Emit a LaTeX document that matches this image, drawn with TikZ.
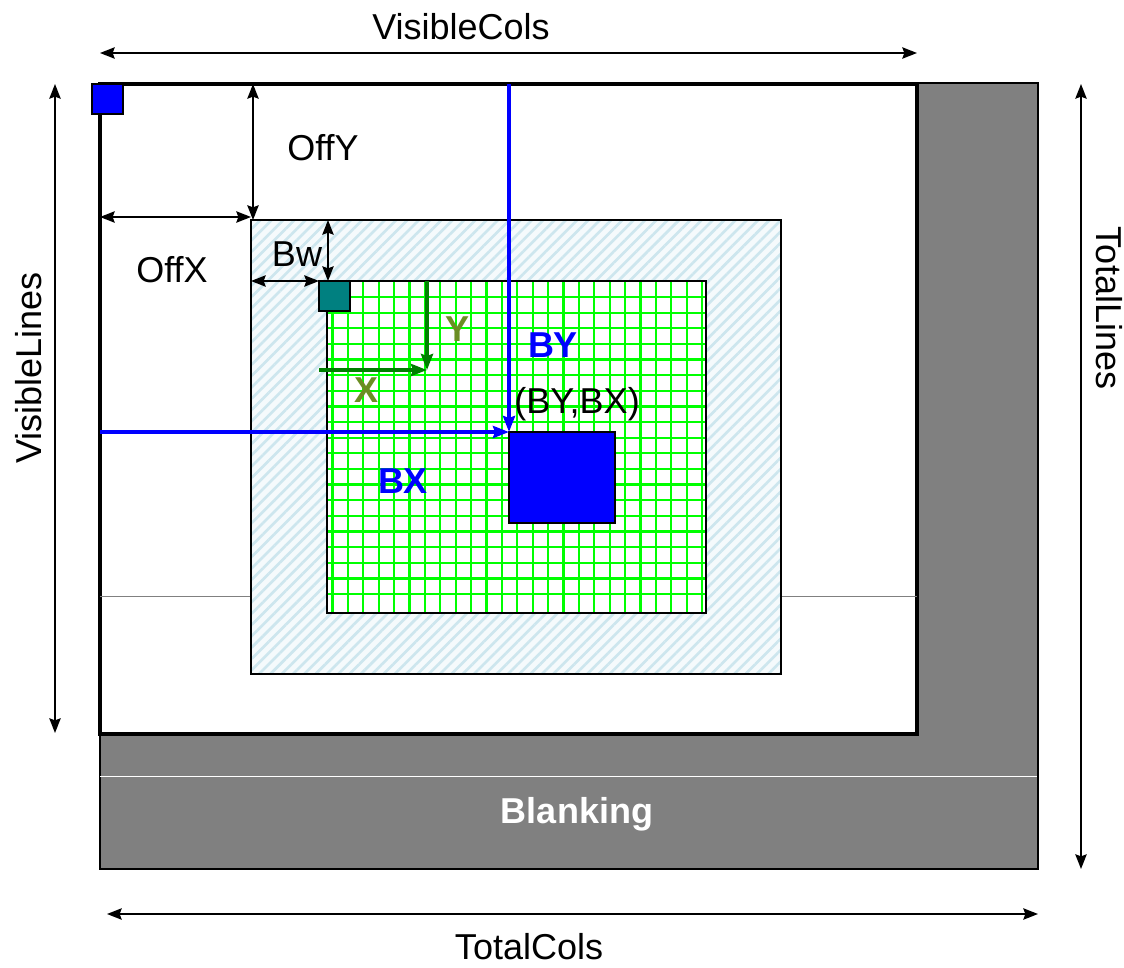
\documentclass[tikz,border=0pt]{standalone}
\usepackage{fontspec}
\setmainfont{Liberation Sans}
\usetikzlibrary{arrows.meta,patterns.meta}

\definecolor{blankgray}{RGB}{128,128,128}
\definecolor{gridgreen}{RGB}{0,255,0}
\definecolor{axisgreen}{RGB}{0,128,0}
\definecolor{axisolive}{RGB}{107,142,35}
\definecolor{hatchblue}{RGB}{205,230,238}
\definecolor{hatchbg}{RGB}{245,250,252}

\tikzset{every picture/.style={line width=0.75pt}}
\tikzset{
  dimarrow/.style={{Stealth[length=11pt,width=8.5pt,inset=1.5pt]}-{Stealth[length=11pt,width=8.5pt,inset=1.5pt]}, line width=1.4pt},
  bluearrow/.style={-{Stealth[length=12pt,width=9pt,inset=1.5pt]}, line width=2.6pt, color=blue},
  greenarrow/.style={-{Stealth[length=12pt,width=9pt,inset=1.5pt]}, line width=2.6pt, color=axisgreen},
  lbl/.style={inner sep=0pt, font=\fontsize{27}{30}\selectfont},
  boldlbl/.style={lbl, font=\fontsize{27}{30}\selectfont\bfseries}
}

\begin{document}
\begin{tikzpicture}[x=0.75pt,y=0.75pt,yscale=-1]
\useasboundingbox (0,0) rectangle (1124,967);
% corners
\coordinate (tot-tl) at (100,83);
\coordinate (tot-br) at (1038,869);
\coordinate (vis-tl) at (100,84);
\coordinate (vis-br) at (917,734);
\coordinate (bor-tl) at (251,220);
\coordinate (bor-br) at (781,674);
\coordinate (act-tl) at (327,281);
\coordinate (act-br) at (706,613);
\coordinate (blk-tl) at (509,432);
\coordinate (blk-br) at (615,523);
%Blanking area
\draw [fill=blankgray, line width=1.1pt] (tot-tl) rectangle (tot-br);
\draw [white] (100,776) -- (1037,776);
\node [boldlbl, text=white] (blanking) at (577,814) {Blanking};
%Visible area
\draw [fill=white, line width=2.6pt] (vis-tl) rectangle (vis-br);
\draw [gray, line width=0.6pt] (100,596) -- (917,596);
%Border area
\draw [fill=hatchbg] (bor-tl) rectangle (bor-br);
\fill [pattern={Lines[angle=45,distance=6pt,line width=2pt]}, pattern color=hatchblue] (bor-tl) rectangle (bor-br);
\draw [line width=1.6pt] (bor-tl) rectangle (bor-br);
%Active area with grid
\fill [white] (act-tl) rectangle (act-br);
\foreach \k in {0,...,24}
  \draw [gridgreen, line width=1.7pt] (332.5+15.4*\k,281) -- (332.5+15.4*\k,613);
\foreach \k in {1,...,20}
  \draw [gridgreen, line width=1.7pt] (327,281.4+15.63*\k) -- (706,281.4+15.63*\k);
\draw [line width=1.6pt] (act-tl) rectangle (act-br);
%Block
\draw [fill=blue, line width=1.6pt] (blk-tl) rectangle (blk-br);
%Small squares
\draw [fill=blue, line width=1.6pt] (92,84) rectangle (123,114);
\draw [fill={rgb,255:red,0;green,128;blue,128}, line width=1.6pt] (319,281) rectangle (350,311);
%Block position arrows
\coordinate (by-start) at (509,84);
\coordinate (bx-start) at (100,432);
\draw [bluearrow] (by-start) -- (blk-tl);
\draw [bluearrow] (bx-start) -- (blk-tl);
\node [boldlbl, text=blue] (by) at (553,345) {BY};
\node [boldlbl, text=blue] (bx) at (403,481) {BX};
\node [lbl] (bybx) at (577,404) {(BY,BX)};
%Pixel axes
\coordinate (axis-o) at (427,370);
\coordinate (y-start) at (427,281);
\coordinate (x-start) at (319,370);
\draw [greenarrow] (y-start) -- (axis-o);
\draw [greenarrow] (x-start) -- (axis-o);
\node [boldlbl, text=axisolive] (ylbl) at (457,329) {Y};
\node [boldlbl, text=axisolive] (xlbl) at (367,390) {X};
%Dimensions
\coordinate (vc-l) at (100,53);
\coordinate (vc-r) at (917,53);
\draw [dimarrow] (vc-l) -- (vc-r);
\node [lbl] (viscols) at (461,27) {VisibleCols};
\coordinate (tc-l) at (107,914);
\coordinate (tc-r) at (1038,914);
\draw [dimarrow] (tc-l) -- (tc-r);
\node [lbl] (totcols) at (529,947) {TotalCols};
\coordinate (vl-t) at (55,84);
\coordinate (vl-b) at (55,733);
\draw [dimarrow] (vl-t) -- (vl-b);
\node [lbl, rotate=90] (vislines) at (29,368) {VisibleLines};
\coordinate (tl-t) at (1081,84);
\coordinate (tl-b) at (1081,869);
\draw [dimarrow] (tl-t) -- (tl-b);
\node [lbl, rotate=-90] (totlines) at (1109,308) {TotalLines};
\coordinate (oy-t) at (253,84);
\coordinate (oy-b) at (253,220);
\draw [dimarrow] (oy-t) -- (oy-b);
\node [lbl] (offy) at (323,148) {OffY};
\coordinate (ox-l) at (100,217);
\coordinate (ox-r) at (251,217);
\draw [dimarrow] (ox-l) -- (ox-r);
\node [lbl] (offx) at (172,270) {OffX};
\coordinate (bwv-t) at (328,220);
\coordinate (bwv-b) at (328,281);
\draw [dimarrow] (bwv-t) -- (bwv-b);
\coordinate (bwh-l) at (251,281);
\coordinate (bwh-r) at (319,281);
\draw [dimarrow] (bwh-l) -- (bwh-r);
\node [lbl] (bw) at (297,254) {Bw};
\end{tikzpicture}
\end{document}
